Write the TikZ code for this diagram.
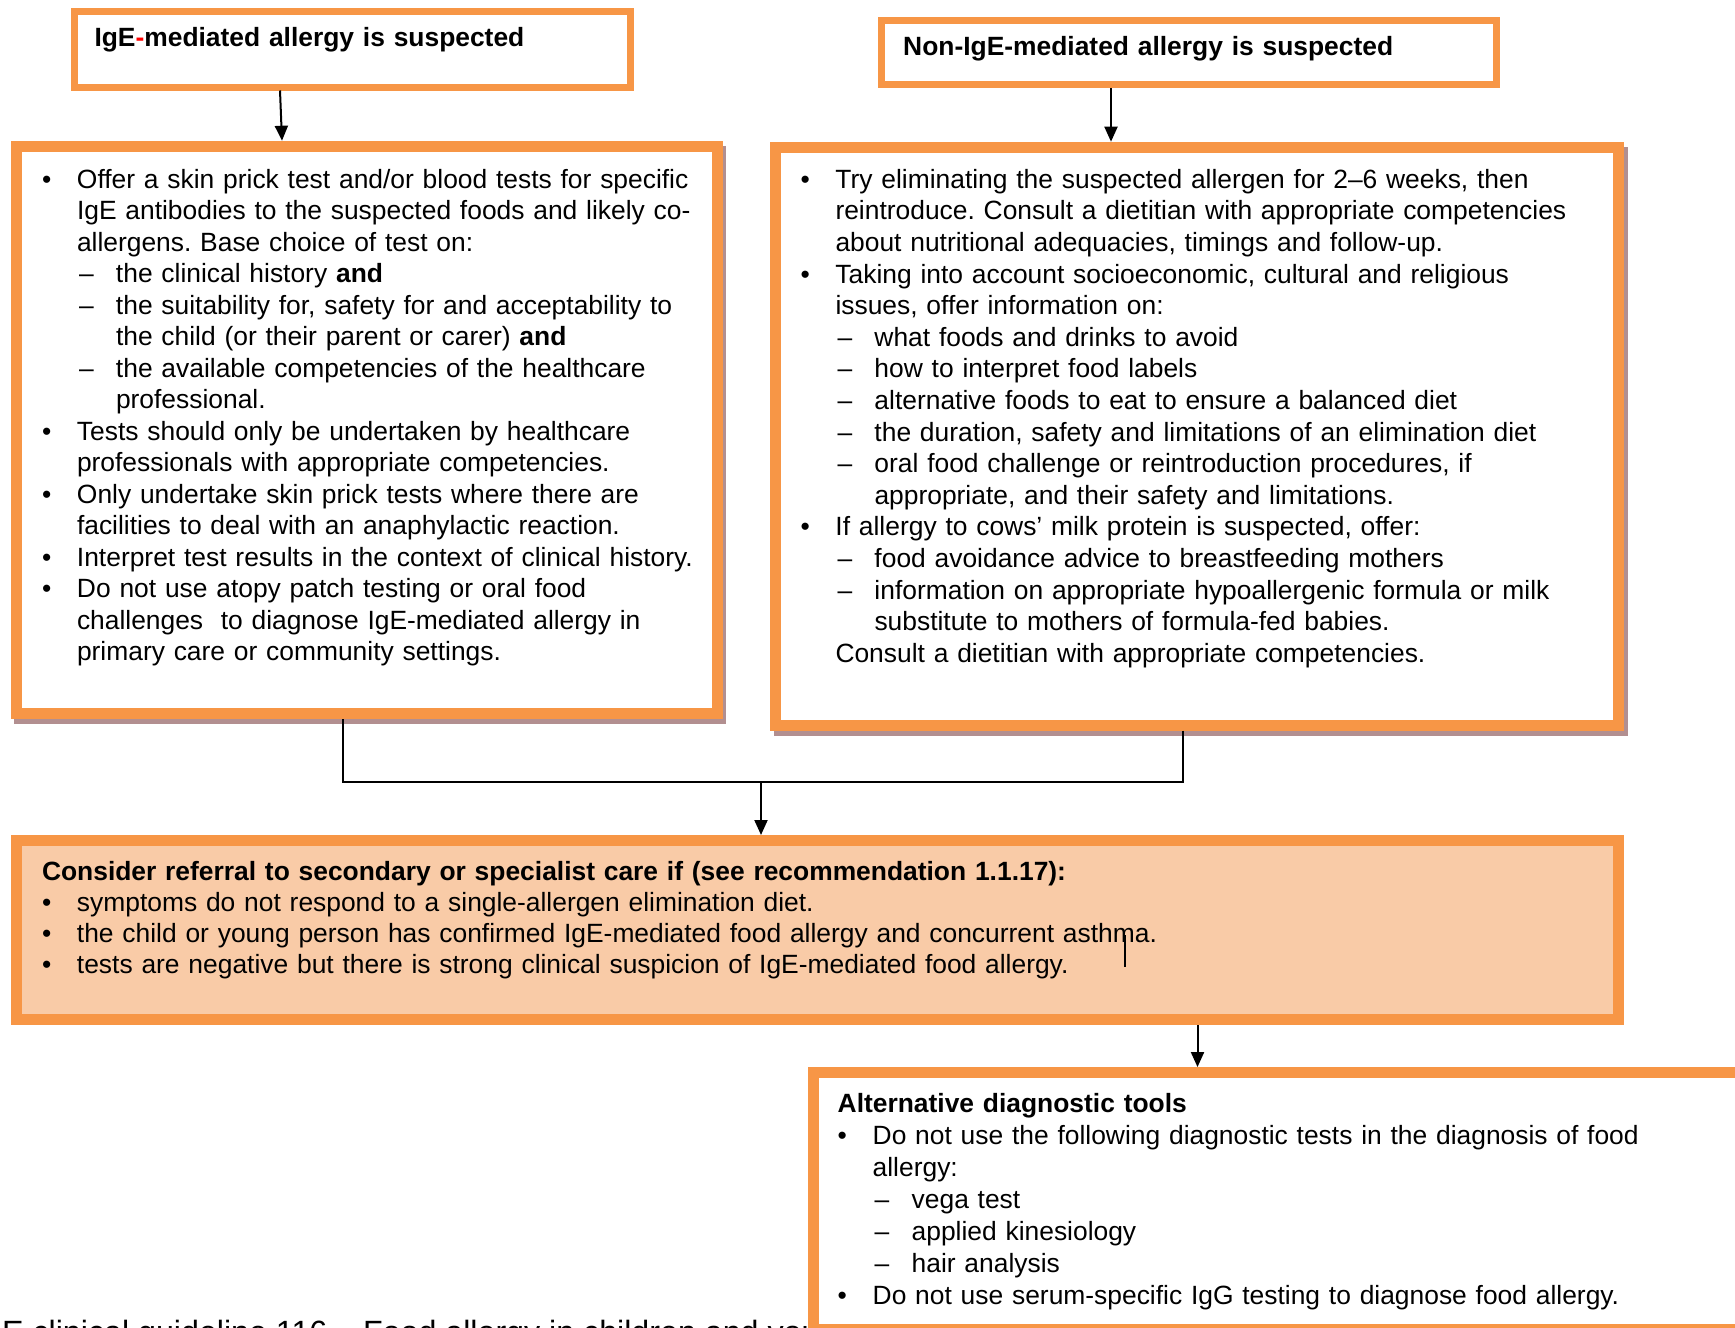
\documentclass[tikz,border=0pt]{standalone}
\usepackage{fontspec}
\setmainfont{Liberation Sans}
\usetikzlibrary{arrows.meta,backgrounds}
\definecolor{boxorange}{HTML}{F79646}
\definecolor{boxpeach}{HTML}{F9CBA7}
\definecolor{boxshade}{HTML}{B28F90}
\newcommand{\bul}{\makebox[35pt][l]{•}}
\newcommand{\ind}{\hspace*{35pt}}
\newcommand{\dsh}{\hspace*{37pt}\makebox[37pt][l]{–}}
\newcommand{\dind}{\hspace*{74pt}}
\frenchspacing

\begin{document}
\begin{tikzpicture}[x=1pt, y=-1pt,
	>={Triangle[width=13pt,length=15pt]},
	headbox/.style={draw=boxorange, line width=7pt, fill=white, inner sep=0pt},
	bigbox/.style={draw=boxorange, line width=11pt, fill=white, inner sep=0pt},
	body/.style={anchor=base west, inner sep=0pt, text width=#1, align=left, font=\fontsize{26.4}{31.5}\selectfont},
	link/.style={line width=2pt}]
	\useasboundingbox (0,0) rectangle (1735,1328);
	\clip (0,0) rectangle (1735,1328);

	\node[headbox, minimum width=556pt, minimum height=76pt] (igeHead) at (352.5,49) {};
	\node[headbox, minimum width=615pt, minimum height=64.5pt] (nonHead) at (1189,52.3) {};
	\node[bigbox, minimum width=701pt, minimum height=567.5pt] (igeBox) at (366.5,430) {};
	\node[bigbox, minimum width=843pt, minimum height=578pt] (nonBox) at (1197,436.2) {};
	\node[bigbox, fill=boxpeach, minimum width=1602pt, minimum height=179pt] (referBox) at (817.5,930) {};
	\node[anchor=base west, inner sep=0pt, font=\fontsize{32.2}{38}\selectfont] (footText) at (2,1343) {E clinical guideline 116 – Food allergy in children and young people};
	\node[bigbox, minimum width=947pt, minimum height=256.5pt] (altBox) at (1286.5,1200.8) {};

	\begin{scope}[on background layer]
		\fill[boxshade] ([shift={(3.5,5)}]igeBox.north west) rectangle ([shift={(3.5,5)}]igeBox.south east);
		\fill[boxshade] ([shift={(3.5,5)}]nonBox.north west) rectangle ([shift={(3.5,5)}]nonBox.south east);
	\end{scope}

	\node[body=600pt, font=\bfseries\fontsize{26.4}{31.5}\selectfont] (igeTitle) at (94.3,46.7) {IgE\textcolor{red}{-}mediated allergy is suspected};
	\node[body=600pt, font=\bfseries\fontsize{26.4}{31.5}\selectfont] (nonTitle) at (903,55) {Non-IgE-mediated allergy is suspected};

	\node[body=680pt] (igeText) at (41.8,188.3) {\bul Offer a skin prick test and/or blood tests for specific\\
		\ind IgE antibodies to the suspected foods and likely co-\\
		\ind allergens. Base choice of test on:\\
		\dsh the clinical history \textbf{and}\\
		\dsh the suitability for, safety for and acceptability to\\
		\dind the child (or their parent or carer) \textbf{and}\\
		\dsh the available competencies of the healthcare\\
		\dind professional.\\
		\bul Tests should only be undertaken by healthcare\\
		\ind professionals with appropriate competencies.\\
		\bul Only undertake skin prick tests where there are\\
		\ind facilities to deal with an anaphylactic reaction.\\
		\bul Interpret test results in the context of clinical history.\\
		\bul Do not use atopy patch testing or oral food\\
		\ind challenges\ \ to diagnose IgE-mediated allergy in\\
		\ind primary care or community settings.};

	\node[body=810pt, font=\fontsize{26.4}{31.6}\selectfont] (nonText) at (800.3,188.3) {\bul Try eliminating the suspected allergen for 2–6 weeks, then\\
		\ind reintroduce. Consult a dietitian with appropriate competencies\\
		\ind about nutritional adequacies, timings and follow-up.\\
		\bul Taking into account socioeconomic, cultural and religious\\
		\ind issues, offer information on:\\
		\dsh what foods and drinks to avoid\\
		\dsh how to interpret food labels\\
		\dsh alternative foods to eat to ensure a balanced diet\\
		\dsh the duration, safety and limitations of an elimination diet\\
		\dsh oral food challenge or reintroduction procedures, if\\
		\dind appropriate, and their safety and limitations.\\
		\bul If allergy to cows’ milk protein is suspected, offer:\\
		\dsh food avoidance advice to breastfeeding mothers\\
		\dsh information on appropriate hypoallergenic formula or milk\\
		\dind substitute to mothers of formula-fed babies.\\
		\ind Consult a dietitian with appropriate competencies.};

	\node[body=1500pt, font=\fontsize{26.4}{31}\selectfont] (referText) at (41.8,880) {\textbf{Consider referral to secondary or specialist care if (see recommendation 1.1.17):}\\
		\bul symptoms do not respond to a single-allergen elimination diet.\\
		\bul the child or young person has confirmed IgE-mediated food allergy and concurrent asthma.\\
		\bul tests are negative but there is strong clinical suspicion of IgE-mediated food allergy.};

	\node[body=880pt, font=\fontsize{26.4}{32.1}\selectfont] (altText) at (837.5,1112) {\textbf{Alternative diagnostic tools}\\
		\bul Do not use the following diagnostic tests in the diagnosis of food\\
		\ind allergy:\\
		\dsh vega test\\
		\dsh applied kinesiology\\
		\dsh hair analysis\\
		\bul Do not use serum-specific IgG testing to diagnose food allergy.};

	\draw[link, ->] ([xshift=-72.5pt]igeHead.south) -- ([xshift=-84.5pt]igeBox.north);
	\draw[link, ->] ([xshift=-78pt]nonHead.south) -- ([xshift=-86pt]nonBox.north);
	\coordinate (merge) at (761,782);
	\draw[link] ([xshift=-23.8pt]igeBox.south) |- (merge);
	\draw[link] ([xshift=-14.5pt]nonBox.south) |- (merge);
	\draw[link, ->] (merge) -- (merge |- referBox.north);
	\coordinate (altDrop) at ([xshift=380pt]referBox.south);
	\draw[link, ->] (altDrop) -- (altDrop |- altBox.north);
	\draw[line width=1.2pt] (1125,935) -- (1125,967);
\end{tikzpicture}
\end{document}
